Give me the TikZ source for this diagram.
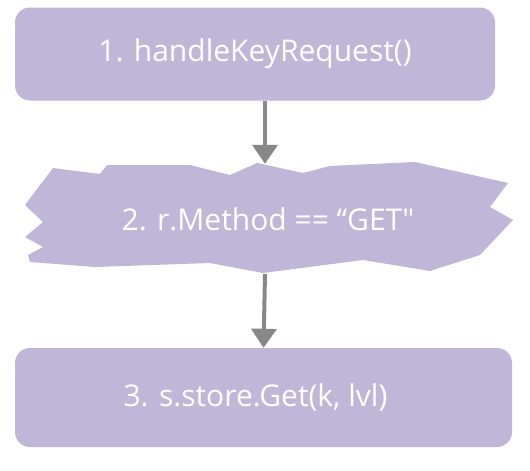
\documentclass[tikz,border=0pt]{standalone}
\usepackage{fontspec}
\setmainfont{Open Sans}
\usepackage{tikz}
\usetikzlibrary{arrows.meta, positioning, calc}
\definecolor{lilac}{RGB}{191,182,216}
\definecolor{arrowgray}{RGB}{136,136,136}
\tikzset{
  stepbox/.style={rectangle, fill=lilac, rounded corners=15pt,
                  text=white, align=center, font=\fontsize{30}{36}\selectfont},
  decision/.style={rectangle, minimum width=480pt, minimum height=110pt,
                   text=white, align=center, font=\fontsize{30}{36}\selectfont},
  flow/.style={-{Triangle[width=25pt,length=19pt]}, line width=4pt, arrowgray},
}
\begin{document}
\begin{tikzpicture}[x=1pt, y=-1pt]
  \useasboundingbox (0,0) rectangle (530,471);
  % jagged backdrop of the check
  \fill[lilac] (265,219) ++(-240,-14) -- ++(28,-37) -- ++(47,6) -- ++(7,-9)
    -- ++(83,0) -- ++(40,10) -- ++(27,-12) -- ++(46,10) -- ++(27,-7)
    -- ++(85,-4) -- ++(93,21) -- ++(-18,24) -- ++(23,13) -- ++(-33,35)
    -- ++(-50,16) -- ++(-67,-11) -- ++(-100,13) -- ++(-53,-10) -- ++(-115,4)
    -- ++(-65,-5) -- ++(-2,-7) -- ++(15,-8) -- ++(-18,-10) -- ++(18,-15) -- cycle;
  \node[stepbox, minimum width=480pt, minimum height=93pt] (handle) at (255,54) {1. handleKeyRequest()};
  \node[decision] (check) at (265,219) {\hspace*{6pt}2. r.Method == “GET\textquotedbl};
  \node[stepbox, minimum width=497pt, minimum height=99pt] (store) at (263.5,397.5) {3. s.store.Get(k, lvl)\hspace*{16pt}};
  \draw[flow] (handle.south -| check.north) -- (check.north);
  \draw[flow] (check.south) -- (store.north);
\end{tikzpicture}
\end{document}
